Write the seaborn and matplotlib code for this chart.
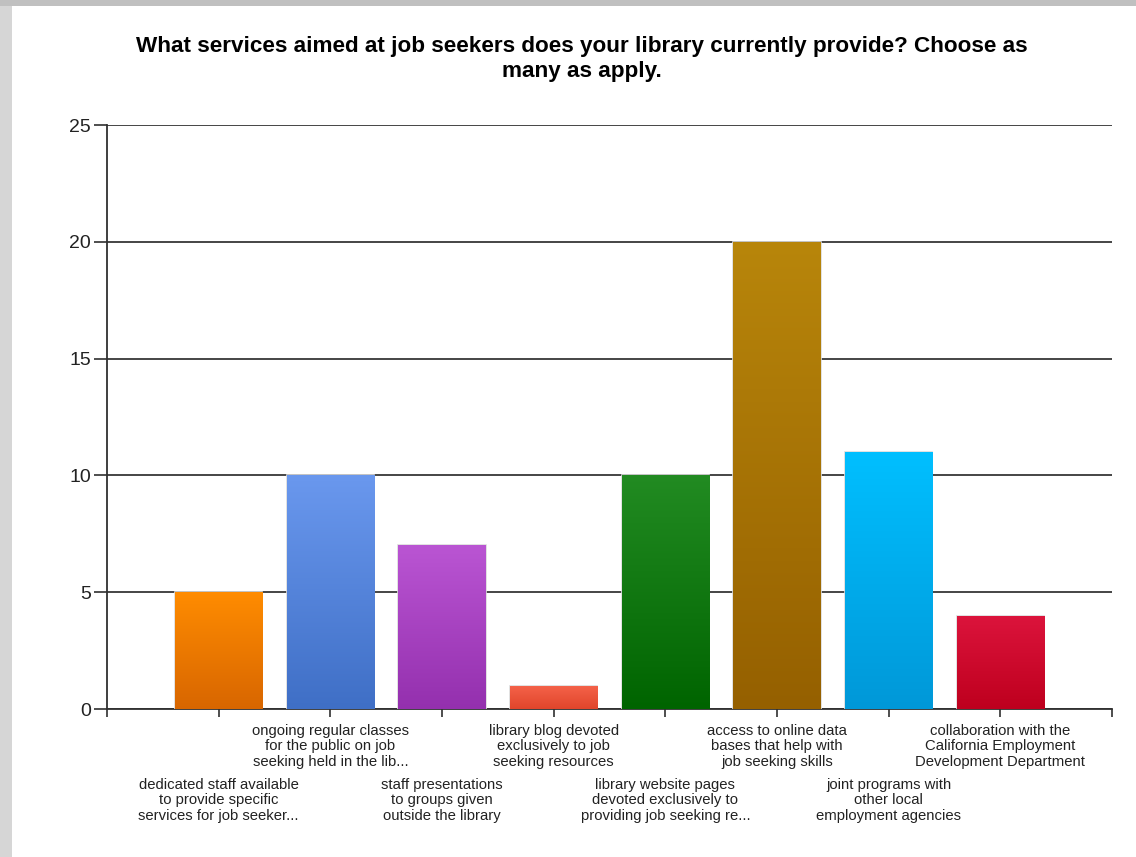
import numpy as np
import pandas as pd
import matplotlib
matplotlib.use('Agg')
import matplotlib.pyplot as plt
import matplotlib.patches as mpatches
from matplotlib.colors import LinearSegmentedColormap
import seaborn as sns

# data
services = [
    'dedicated staff available\nto provide specific\nservices for job seeker...',
    'ongoing regular classes\nfor the public on job\nseeking held in the lib...',
    'staff presentations\nto groups given\noutside the library',
    'library blog devoted\nexclusively to job\nseeking resources',
    'library website pages\ndevoted exclusively to\nproviding job seeking re...',
    'access to online data\nbases that help with\njob seeking skills',
    'joint programs with\nother local\nemployment agencies',
    'collaboration with the\nCalifornia Employment\nDevelopment Department',
]
counts = [5, 10, 7, 1, 10, 20, 11, 4]
top_colors = ['#FF8C00', '#6A98EE', '#BA55D3', '#F5634A', '#228B22', '#B8860B', '#00BFFF', '#DC143C']
bottom_colors = ['#D86600', '#3F6FC6', '#9430AE', '#E0452B', '#006400', '#956000', '#0098D8', '#BE001E']
yticks = [0, 5, 10, 15, 20, 25]
title = ('What services aimed at job seekers does your library currently provide? Choose as\n'
         'many as apply.')

df = pd.DataFrame({'service': services, 'count': counts})

sns.set_style('white')
plt.rcParams['font.family'] = ['Liberation Sans', 'DejaVu Sans']

fig = plt.figure(figsize=(11.36, 8.57), dpi=100, facecolor='#d6d6d6')
# white canvas inside the grey window frame
fig.patches.append(mpatches.Rectangle((0, 1 - 6 / 857), 1, 6 / 857, transform=fig.transFigure,
                                      facecolor='#c0c0c0', edgecolor='none', zorder=-2))
fig.patches.append(mpatches.Rectangle((12 / 1136, 0), 1, 1 - 6 / 857, transform=fig.transFigure,
                                      facecolor='white', edgecolor='none', zorder=-1))

ax = fig.add_axes([107 / 1136, 1 - 709 / 857, (1112 - 107) / 1136, (709 - 125) / 857])
ax.set_facecolor('none')

sns.barplot(data=df, x='service', y='count', ax=ax, width=0.78, color='white',
            edgecolor='#dcdcdc', linewidth=1.2, zorder=3)

# vertical gradient in each bar
for patch, c_top, c_bot in zip(ax.patches, top_colors, bottom_colors):
    x0, y0 = patch.get_x(), patch.get_y()
    w, h = patch.get_width(), patch.get_height()
    cmap = LinearSegmentedColormap.from_list('g', [c_bot, c_top])
    grad = np.linspace(0, 1, 256).reshape(-1, 1)
    im = ax.imshow(grad, cmap=cmap, origin='lower', aspect='auto',
                   extent=[x0, x0 + w, y0, y0 + h], zorder=3.5)
    im.set_clip_path(patch)

ax.set_xlim(-1, len(services))
ax.set_ylim(0, 25)
ax.set_yticks(yticks)
ax.set_xticks(np.arange(-1, len(services) + 1))
ax.set_xticklabels([])
ax.set_xlabel('')
ax.set_ylabel('')

ax.yaxis.grid(True, color='#454545', linewidth=1.4)
ax.set_axisbelow(True)
for s in ['top', 'right']:
    ax.spines[s].set_visible(False)
for s in ['left', 'bottom']:
    ax.spines[s].set_color('#303030')
    ax.spines[s].set_linewidth(1.3)

ax.tick_params(axis='y', length=9.5, width=1.3, color='#404040', labelsize=14, pad=2,
               labelcolor='#222222', left=True)
ax.tick_params(axis='x', length=6, width=1.3, color='#404040', bottom=True)

# staggered category labels
for i, lab in enumerate(services):
    off = -15 if i % 2 == 1 else -69
    ax.annotate(lab, xy=(i, 0), xycoords=('data', 'axes fraction'),
                xytext=(0, off * 0.72), textcoords='offset points',
                ha='center', va='top', fontsize=10.7, linespacing=1.13, color='#222222')

fig.text(582 / 1136, 1 - 59 / 857, title, ha='center', va='center', fontsize=16.2,
         fontweight='bold', linespacing=1.3, color='black')

fig.savefig('out.png', dpi=100, facecolor=fig.get_facecolor())
